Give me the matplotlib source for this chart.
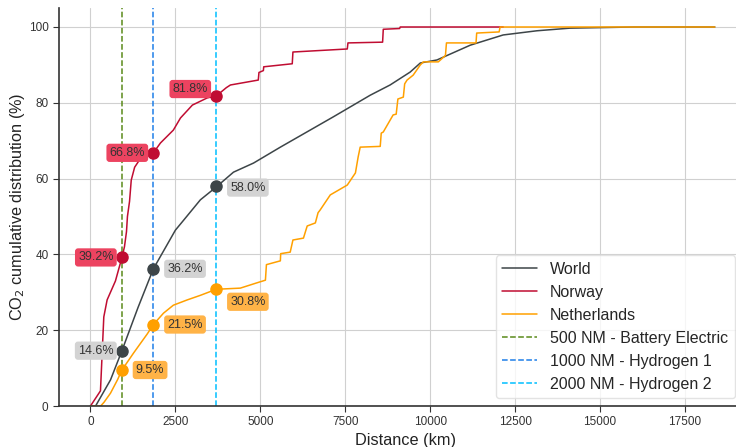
import numpy as np
import matplotlib
matplotlib.use("Agg")
import matplotlib.pyplot as plt
import seaborn as sns

# cumulative CO2 share (%) against distance (km)
world_km = [0, 150, 590, 926, 1400, 1852, 2500, 2740, 3235, 3704, 4210, 4800, 5590,
            7150, 8235, 8820, 9410, 9710, 10200, 11180, 12150, 13140, 14120, 16000, 18380]
world_pct = [0, 0, 6.9, 14.6, 26, 36.2, 46.4, 49, 54.4, 57.8, 61.7, 64.1, 68.3,
             76.3, 82, 84.7, 88.1, 90.5, 91.3, 95.2, 97.9, 99, 99.7, 100, 100]

norway_km = [0, 294, 392, 490, 735, 926, 1000, 1060, 1088, 1150, 1200, 1300, 1500, 1852,
             2060, 2440, 2650, 3000, 3440, 3704, 4000, 4120, 4940, 4960, 5090, 5100,
             5940, 5960, 7560, 7580, 8600, 8620, 9100, 9120, 12150]
norway_pct = [0, 4, 23.5, 28, 33, 39.2, 42, 46, 50, 54, 59.6, 63, 65.7, 66.8,
              69.4, 72.8, 76, 79.4, 81.3, 81.8, 84, 84.7, 86, 88, 88.5, 89.5,
              90.3, 93.4, 94.2, 95.8, 96, 99.4, 99.6, 100, 100]

nl_km = [0, 300, 400, 590, 800, 926, 1270, 1670, 1852, 2150, 2440, 2850, 3235, 3704,
         4410, 4900, 5150, 5180, 5590, 5600, 5880, 5960, 6270, 6380, 6620, 6700, 6760,
         7060, 7560, 7800, 7880, 7940, 8530, 8560, 8620, 8910, 9000, 9050, 9210, 9250,
         9320, 9500, 9710, 9800, 10240, 10450, 10480, 11350, 11370, 12030, 12060, 18380]
nl_pct = [0, 0, 1, 3.4, 7, 9.5, 14, 19, 21.5, 24.5, 26.6, 28, 29.2, 30.8,
          31.1, 32.5, 33.2, 37.3, 38.3, 40.2, 40.6, 43.8, 44.3, 47.5, 48.3, 51, 51.7,
          55.7, 58.3, 61.5, 65.7, 68.3, 68.5, 72, 72.3, 76.8, 77, 81, 81.5, 85,
          86, 87.3, 90, 90.8, 90.8, 92.5, 95.8, 95.8, 98.4, 98.7, 100, 100]

ranges_km = [926, 1852, 3704]
range_labels = ['500 NM - Battery Electric', '1000 NM - Hydrogen 1', '2000 NM - Hydrogen 2']

world_marks = [14.6, 36.2, 58.0]
norway_marks = [39.2, 66.8, 81.8]
nl_marks = [9.5, 21.5, 30.8]

c_world = '#3d4548'
c_norway = '#c00d32'
c_nl = '#ffa000'
c_ranges = ['#5a8a1a', '#1e7fe8', '#00bfff']

sns.set_style("ticks")
plt.rcParams['font.family'] = ['Liberation Sans', 'DejaVu Sans']

fig = plt.figure(figsize=(7.36, 4.47), dpi=100)
ax = fig.add_axes([0.0802, 0.0917, 0.9402, 0.8903])

ax.grid(True, color='#d0d0d0', lw=0.8)
ax.set_axisbelow(True)

ax.plot(world_km, world_pct, color=c_world, lw=1.1, label='World')
ax.plot(norway_km, norway_pct, color=c_norway, lw=1.1, label='Norway')
ax.plot(nl_km, nl_pct, color=c_nl, lw=1.1, label='Netherlands')
for x, c, lab in zip(ranges_km, c_ranges, range_labels):
    ax.axvline(x, color=c, ls='--', lw=1.1, label=lab)

# markers and labels at each range
def mark(xs, ys, color, boxc, offsets):
    for x, y, (dx, dy) in zip(xs, ys, offsets):
        ax.plot(x, y, 'o', color=color, ms=8, zorder=5)
        ha = 'right' if dx < 0 else 'left'
        ax.annotate(f'{y:.1f}%', (x, y), xytext=(dx, dy), textcoords='offset points',
                    ha=ha, va='center', fontsize=9, color='#333333', zorder=6,
                    bbox=dict(boxstyle='round,pad=0.25', fc=boxc, ec='none'))

mark(ranges_km, norway_marks, c_norway, '#ec4360', [(-6, 0), (-6, 0), (-6, 5)])
mark(ranges_km, world_marks, c_world, '#d3d3d3', [(-6, 0), (10, 0), (10, -1)])
mark(ranges_km, nl_marks, c_nl, '#ffb347', [(10, 0), (10, 0), (10, -9)])

ax.set_xlim(-926, 19446)
ax.set_ylim(0, 105)
ax.set_xticks([0, 2500, 5000, 7500, 10000, 12500, 15000, 17500])
ax.set_yticks([0, 20, 40, 60, 80, 100])
ax.tick_params(labelsize=8.5, colors='#333333', length=4)
ax.set_xlabel('Distance (km)', fontsize=11.7, color='#222222', labelpad=3)
ax.set_ylabel('CO$_2$ cumulative distribution (%)', fontsize=11.7, color='#222222', labelpad=1.5)
for s in ['left', 'bottom']:
    ax.spines[s].set_color('#333333')
    ax.spines[s].set_linewidth(1.2)
sns.despine(ax=ax)

ax.legend(loc='lower right', bbox_to_anchor=(0.988, 0), fontsize=11.5, frameon=True,
          framealpha=0.8, edgecolor='#dddddd', handlelength=2.2)

fig.savefig('out.png', dpi=100)
